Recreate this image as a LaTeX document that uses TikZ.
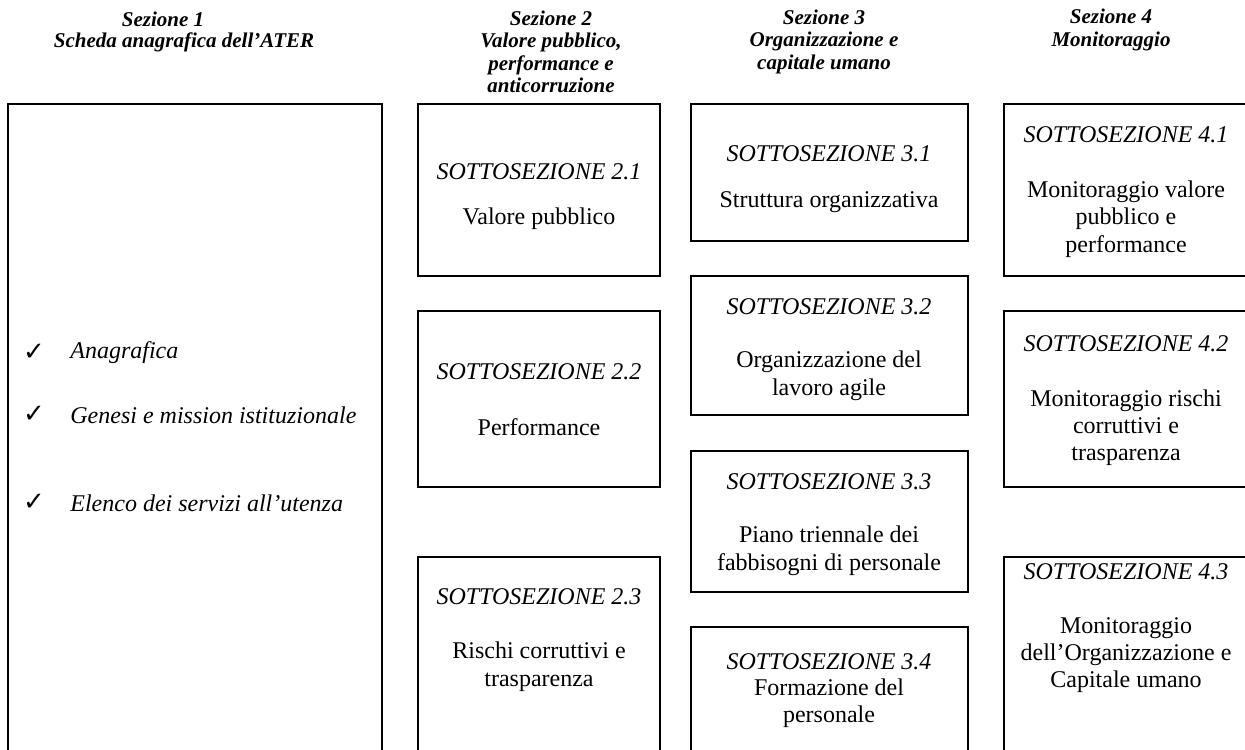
\documentclass[tikz,border=0pt]{standalone}
\usepackage{fontspec}
\setmainfont{Liberation Serif}
\newfontfamily\checkfont{DejaVu Sans}
\begin{document}
\begin{tikzpicture}[x=0.5pt,y=-0.5pt,
  panel/.style={draw, line width=1pt, rectangle, inner sep=0pt, outer sep=0pt},
  head/.style={inner sep=0pt, align=center, font=\fontsize{10.5}{11.25}\selectfont\bfseries\itshape},
  subtitle/.style={inner sep=0pt, font=\fontsize{12}{13.6}\selectfont\itshape},
  desc/.style={inner sep=0pt, align=center, font=\fontsize{12}{13.6}\selectfont},
  item/.style={inner sep=0pt, anchor=west, font=\fontsize{12}{13.6}\selectfont\itshape},
  tick/.style={inner sep=0pt, font=\fontsize{13}{14}\selectfont\checkfont}]
\clip (0,0) rectangle (1245,749);

% section headings
\node[head] (h1a) at (163,19) {Sezione 1};
\node[head] (h1b) at (184,42) {Scheda anagrafica dell’ATER};
\node[head] (h2) at (551,52) {Sezione 2\\Valore pubblico,\\performance e\\anticorruzione};
\node[head] (h3) at (824,41.5) {Sezione 3\\Organizzazione e\\capitale umano};
\node[head] (h4) at (1111,30) {Sezione 4\\Monitoraggio};

% section 1 panel with its list
\node[panel, minimum width=187pt, minimum height=328pt] (s1) at (195,432) {};
\node[tick] (t1) at (34,352) {✓};
\node[item] (i1) at (70,353) {Anagrafica};
\node[tick] (t2) at (34,414) {✓};
\node[item] (i2) at (70,415) {Genesi e mission istituzionale};
\node[tick] (t3) at (34,502) {✓};
\node[item] (i3) at (70,503) {Elenco dei servizi all’utenza};

% section 2 panels
\node[panel, minimum width=121pt, minimum height=86pt] (s21) at (539,190) {};
\node[subtitle] (s21t) at (539,171.7) {SOTTOSEZIONE 2.1};
\node[desc] (s21d) at (539,218.3) {Valore pubblico};

\node[panel, minimum width=121pt, minimum height=88pt] (s22) at (539,399) {};
\node[subtitle] (s22t) at (539,371.7) {SOTTOSEZIONE 2.2};
\node[desc] (s22d) at (539,426.7) {Performance};

\node[panel, minimum width=121pt, minimum height=101.5pt] (s23) at (539,658.5) {};
\node[subtitle] (s23t) at (539,596.7) {SOTTOSEZIONE 2.3};
\node[desc] (s23d) at (539,666.7) {Rischi corruttivi e\\trasparenza};

% section 3 panels
\node[panel, minimum width=138.5pt, minimum height=68.5pt] (s31) at (829.5,172.5) {};
\node[subtitle] (s31t) at (829,153.3) {SOTTOSEZIONE 3.1};
\node[desc] (s31d) at (829,201.7) {Struttura organizzativa};

\node[panel, minimum width=138.5pt, minimum height=69.5pt] (s32) at (829.5,345.5) {};
\node[subtitle] (s32t) at (829,306.7) {SOTTOSEZIONE 3.2};
\node[desc] (s32d) at (829,375.8) {Organizzazione del\\lavoro agile};

\node[panel, minimum width=138.5pt, minimum height=70.5pt] (s33) at (829.5,521.5) {};
\node[subtitle] (s33t) at (829,481.7) {SOTTOSEZIONE 3.3};
\node[desc] (s33d) at (829,550.8) {Piano triennale dei\\fabbisogni di personale};

\node[panel, minimum width=138.5pt, minimum height=66.5pt] (s34) at (829.5,693.5) {};
\node[subtitle] (s34t) at (829,661.7) {SOTTOSEZIONE 3.4};
\node[desc] (s34d) at (829,703.3) {Formazione del\\personale};

% section 4 panels
\node[panel, minimum width=123pt, minimum height=86pt] (s41) at (1127,190) {};
\node[subtitle] (s41t) at (1126,135) {SOTTOSEZIONE 4.1};
\node[desc] (s41d) at (1126,219.2) {Monitoraggio valore\\pubblico e\\performance};

\node[panel, minimum width=123pt, minimum height=88pt] (s42) at (1127,399) {};
\node[subtitle] (s42t) at (1126,343.3) {SOTTOSEZIONE 4.2};
\node[desc] (s42d) at (1126,427.5) {Monitoraggio rischi\\corruttivi e\\trasparenza};

\node[panel, minimum width=123pt, minimum height=101.5pt] (s43) at (1127,658.5) {};
\node[subtitle] (s43t) at (1126,571.7) {SOTTOSEZIONE 4.3};
\node[desc] (s43d) at (1126,655) {Monitoraggio\\dell’Organizzazione e\\Capitale umano};
\end{tikzpicture}
\end{document}
